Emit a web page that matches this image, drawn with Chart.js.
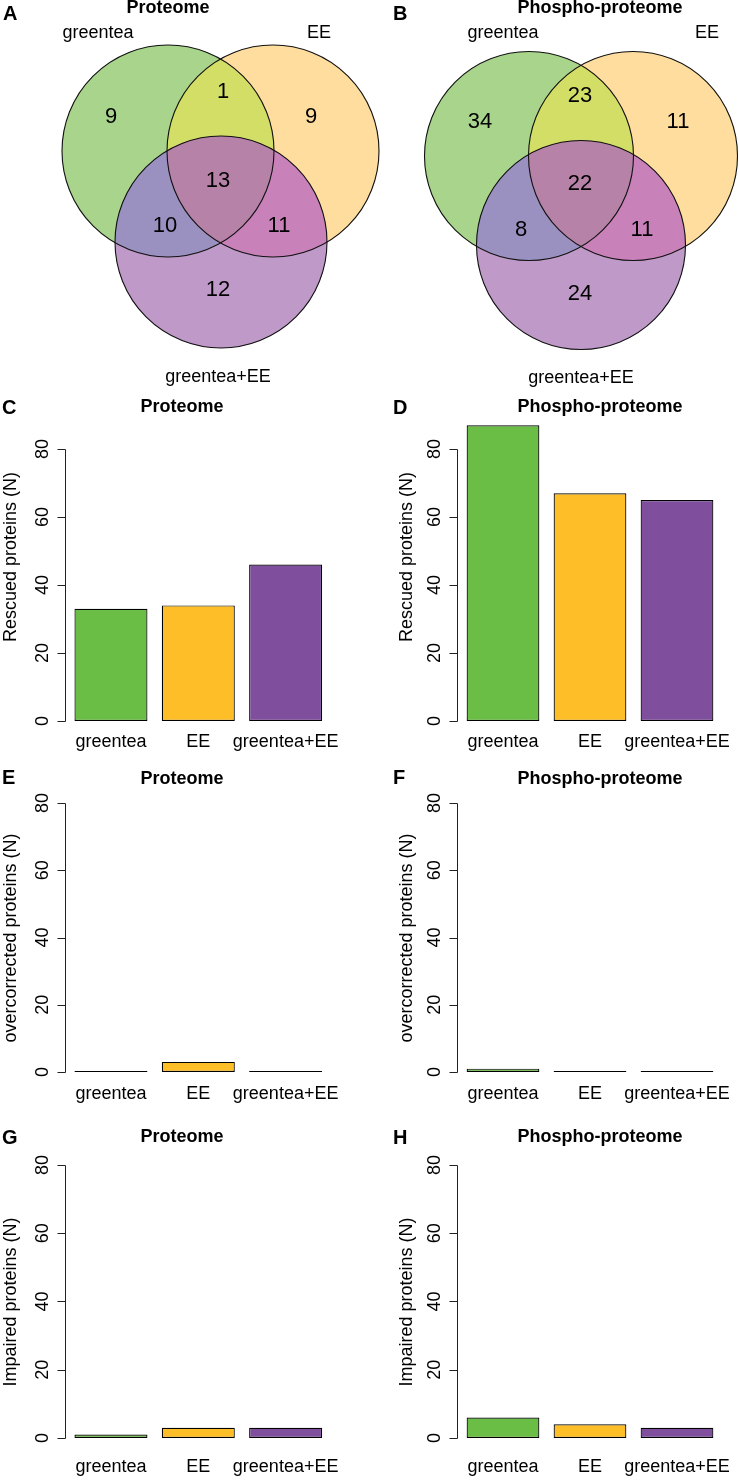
<!DOCTYPE html>
<html><head><meta charset="utf-8">
<script src="https://cdn.jsdelivr.net/npm/chart.js@4.4.1/dist/chart.umd.min.js"></script>
<style>
html,body{margin:0;padding:0;background:#fff;}
#fig{position:relative;width:739px;height:1480px;overflow:hidden;font-family:"Liberation Sans",Arial,Helvetica,sans-serif;}
canvas{position:absolute;}
.lt{position:absolute;font-weight:bold;font-size:20px;line-height:20px;color:#000;white-space:nowrap;}
</style></head><body><div id="fig"></div>
<script>
// ---------------- data ----------------
const setNames = ['greentea', 'EE', 'greentea+EE'];
// Venn region order: greentea only, EE only, greentea+EE only, greentea&EE, greentea&(greentea+EE), EE&(greentea+EE), all three
const proteomeVennCounts = [9, 9, 12, 1, 10, 11, 13];
const phosphoVennCounts = [34, 11, 24, 23, 8, 11, 22];

const categories = ['greentea', 'EE', 'greentea+EE'];
const rescuedProteome = [33, 34, 46];
const rescuedPhospho = [87, 67, 65];
const overcorrectedProteome = [0, 3, 0];
const overcorrectedPhospho = [1, 0, 0];
const impairedProteome = [1, 3, 3];
const impairedPhospho = [6, 4, 3];
const yTicks = [0, 20, 40, 60, 80];

// ---------------- styles ----------------
const FONT = '"Liberation Sans", Arial, Helvetica, sans-serif';
const barColors = ['#6abd45', '#fdbe27', '#7f4f9e'];
const vennRegionColors = ['#a8d48c', '#fedd9e', '#bf99c8', '#d3de66', '#9a91c1', '#c981ba', '#b682a8'];
const regionMembership = [[0], [1], [2], [0, 1], [0, 2], [1, 2], [0, 1, 2]];

const fig = document.getElementById('fig');
function makeCanvas(left, top, w, h) {
  const c = document.createElement('canvas');
  c.width = w; c.height = h;
  c.style.left = left + 'px'; c.style.top = top + 'px';
  c.style.width = w + 'px'; c.style.height = h + 'px';
  fig.appendChild(c);
  return c;
}
function letter(t, x, cy) {
  const d = document.createElement('div');
  d.className = 'lt'; d.textContent = t;
  d.style.left = x + 'px'; d.style.top = (cy - 10) + 'px';
  fig.appendChild(d);
}

// ---------------- Venn ----------------
const vennPlugin = {
  id: 'vennRegions',
  beforeDatasetsDraw(chart) {
    const ctx = chart.ctx;
    const els = chart.getDatasetMeta(0).data;
    const circ = els.map(e => ({ x: e.x, y: e.y, r: e.options.radius }));
    const W = chart.width, H = chart.height;
    regionMembership.forEach((mem, k) => {
      ctx.save();
      mem.forEach(i => { ctx.beginPath(); ctx.arc(circ[i].x, circ[i].y, circ[i].r, 0, Math.PI * 2); ctx.clip(); });
      ctx.fillStyle = vennRegionColors[k];
      ctx.fillRect(0, 0, W, H);
      ctx.restore();
    });
  },
  afterDatasetsDraw(chart, args, opts) {
    const ctx = chart.ctx, sx = chart.scales.x, sy = chart.scales.y;
    const L = opts.layout;
    ctx.save();
    ctx.fillStyle = '#000';
    ctx.textAlign = 'center';
    ctx.textBaseline = 'middle';
    ctx.font = '22px ' + FONT;
    opts.counts.forEach((v, k) => {
      ctx.fillText(String(v), sx.getPixelForValue(L.countPos[k][0]), sy.getPixelForValue(L.countPos[k][1]));
    });
    ctx.font = '18px ' + FONT;
    setNames.forEach((s, k) => {
      ctx.fillText(s, sx.getPixelForValue(L.labelPos[k][0]), sy.getPixelForValue(L.labelPos[k][1]));
    });
    ctx.font = 'bold 18px ' + FONT;
    ctx.fillText(opts.title, sx.getPixelForValue(L.titlePos[0]), sy.getPixelForValue(L.titlePos[1]));
    ctx.restore();
  }
};

function vennChart(L, counts, title) {
  const cv = makeCanvas(L.x0, 0, L.w, L.h);
  const circles = L.centers.map(c => ({ x: c[0], y: c[1], r: L.radius }));
  new Chart(cv, {
    type: 'bubble',
    data: { datasets: [{ data: circles, clip: false, backgroundColor: 'rgba(0,0,0,0)', borderColor: '#111', borderWidth: 1.1, hoverRadius: 0, hoverBorderWidth: 1.1 }] },
    options: {
      responsive: false, animation: false, events: [], devicePixelRatio: 1,
      layout: { padding: 0, autoPadding: false },
      plugins: { legend: { display: false }, tooltip: { enabled: false }, vennRegions: { layout: L, counts: counts, title: title } },
      scales: {
        x: { type: 'linear', display: false, min: L.x0, max: L.x0 + L.w },
        y: { type: 'linear', display: false, reverse: true, min: 0, max: L.h }
      }
    },
    plugins: [vennPlugin]
  });
}

const vennLayoutA = {
  x0: 0, w: 395, h: 390,
  centers: [[168, 151], [273, 151], [221, 242]], radius: 106,
  countPos: [[111, 117], [311, 117], [218, 290], [223, 92], [165, 226], [279, 226], [218, 181]],
  labelPos: [[98, 33], [319, 33], [218, 377]],
  titlePos: [168, 8]
};
const vennLayoutB = {
  x0: 400, w: 339, h: 390,
  centers: [[529, 156], [633, 156], [581, 245]], radius: 104.5,
  countPos: [[480, 122], [678, 122], [580, 294], [580, 96], [521, 230], [642, 230], [580, 184]],
  labelPos: [[503, 33], [707, 33], [581, 378]],
  titlePos: [600, 8]
};
vennChart(vennLayoutA, proteomeVennCounts, 'Proteome');
vennChart(vennLayoutB, phosphoVennCounts, 'Phospho-proteome');

// ---------------- bar charts ----------------
const rAxisPlugin = {
  id: 'rAxis',
  afterDraw(chart, args, o) {
    const ctx = chart.ctx, sx = chart.scales.x, sy = chart.scales.y;
    const ax = Math.round(chart.chartArea.left - o.axisGap) + 0.5;
    const y0 = sy.getPixelForValue(yTicks[0]);
    const yTop = sy.getPixelForValue(yTicks[yTicks.length - 1]);
    ctx.save();
    ctx.strokeStyle = '#222'; ctx.lineWidth = 1;
    ctx.beginPath();
    ctx.moveTo(ax, Math.round(y0) + 0.5); ctx.lineTo(ax, Math.round(yTop) + 0.5);
    yTicks.forEach(t => {
      const py = Math.round(sy.getPixelForValue(t)) + 0.5;
      ctx.moveTo(ax, py); ctx.lineTo(ax - 8, py);
    });
    ctx.stroke();
    ctx.fillStyle = '#000';
    ctx.textAlign = 'center'; ctx.textBaseline = 'middle';
    ctx.font = '18px ' + FONT;
    yTicks.forEach(t => {
      ctx.save();
      ctx.translate(ax - 22, sy.getPixelForValue(t));
      ctx.rotate(-Math.PI / 2);
      ctx.fillText(String(t), 0, 0);
      ctx.restore();
    });
    ctx.save();
    ctx.translate(o.yTitleX, o.yTitleY);
    ctx.rotate(-Math.PI / 2);
    ctx.fillText(o.yTitle, 0, 0);
    ctx.restore();
    categories.forEach((c, i) => {
      ctx.fillText(c, sx.getPixelForValue(i), y0 + o.labelGap);
    });
    ctx.font = 'bold 18px ' + FONT;
    ctx.fillText(o.title, o.titleX, o.titleY);
    ctx.restore();
  }
};

const cols = {
  left: { x0: 0, w: 370, plotL: 67.3, plotR: 329.3, axisGap: 2.3, yTitleX: 11, titleX: 182 },
  right: { x0: 370, w: 369, plotL: 459.5, plotR: 720.5, axisGap: 2.5, yTitleX: 407, titleX: 600 }
};
const rows = {
  rescued: { top: 390, h: 370, zeroY: 721, y80: 449, ymax: 88, titleY: 407, labelY: 742, yTitleY: 557, yTitle: 'Rescued proteins (N)' },
  over: { top: 760, h: 365, zeroY: 1072, y80: 803, ymax: 82, titleY: 779, labelY: 1094, yTitleY: 938, yTitle: 'overcorrected proteins (N)' },
  impaired: { top: 1125, h: 355, zeroY: 1438, y80: 1165, ymax: 82, titleY: 1137, labelY: 1467, yTitleY: 1302, yTitle: 'Impaired proteins (N)' }
};

function barChart(col, row, values, title) {
  const C = cols[col], R = rows[row];
  const cv = makeCanvas(C.x0, R.top, C.w, R.h);
  const plotTop = R.zeroY - R.ymax * (R.zeroY - R.y80) / 80;
  new Chart(cv, {
    type: 'bar',
    data: {
      labels: categories,
      datasets: [{
        data: values, backgroundColor: barColors, borderColor: '#000', borderWidth: 1.2,
        borderSkipped: false, barPercentage: 0.836, categoryPercentage: 1, minBarLength: 1
      }]
    },
    options: {
      responsive: false, animation: false, events: [], devicePixelRatio: 1,
      layout: { padding: { left: C.plotL - C.x0, right: C.x0 + C.w - C.plotR, top: plotTop - R.top, bottom: R.top + R.h - R.zeroY } },
      plugins: {
        legend: { display: false }, tooltip: { enabled: false }, title: { display: false },
        rAxis: {
          axisGap: C.axisGap, yTitle: R.yTitle, yTitleX: C.yTitleX - C.x0, yTitleY: R.yTitleY - R.top,
          labelGap: R.labelY - R.zeroY, title: title, titleX: C.titleX - C.x0, titleY: R.titleY - R.top
        }
      },
      scales: {
        x: { display: false, offset: true },
        y: { display: false, min: 0, max: R.ymax }
      }
    },
    plugins: [rAxisPlugin]
  });
}

barChart('left', 'rescued', rescuedProteome, 'Proteome');
barChart('right', 'rescued', rescuedPhospho, 'Phospho-proteome');
barChart('left', 'over', overcorrectedProteome, 'Proteome');
barChart('right', 'over', overcorrectedPhospho, 'Phospho-proteome');
barChart('left', 'impaired', impairedProteome, 'Proteome');
barChart('right', 'impaired', impairedPhospho, 'Phospho-proteome');

[['A', 3, 13], ['B', 393, 13], ['C', 2, 407], ['D', 393, 407], ['E', 2, 777], ['F', 393, 777], ['G', 2, 1137], ['H', 393, 1137]]
  .forEach(l => letter(l[0], l[1], l[2]));
</script></body></html>
